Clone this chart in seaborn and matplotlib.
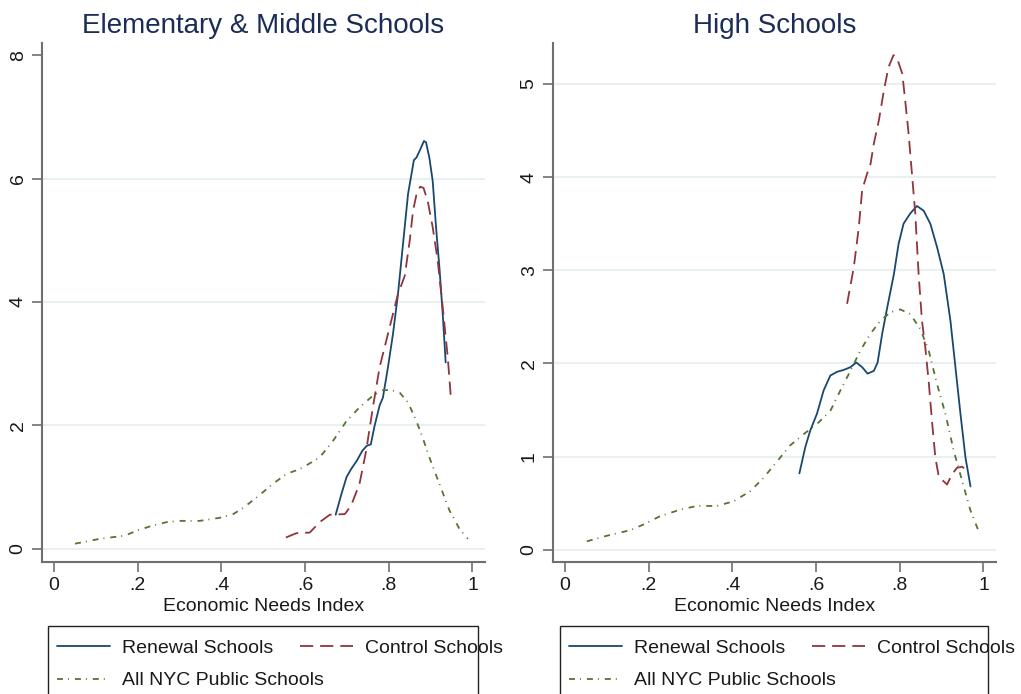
import matplotlib
matplotlib.use("Agg")
import matplotlib.pyplot as plt
from matplotlib.lines import Line2D
from matplotlib.patches import Rectangle
import pandas as pd
import seaborn as sns

sns.set_style("white")
plt.rcParams["font.family"] = ["Liberation Sans", "DejaVu Sans"]
plt.rcParams["lines.scale_dashes"] = False

# ---- Kernel density estimates of the Economic Needs Index ----
# Elementary & Middle Schools
em_renewal_x = [0.673, 0.687, 0.699, 0.710, 0.724, 0.737, 0.748, 0.757, 0.766, 0.778, 0.786, 0.798, 0.810, 0.822,
                0.834, 0.846, 0.860, 0.866, 0.877, 0.884, 0.889, 0.897, 0.905, 0.913, 0.921, 0.929, 0.936]
em_renewal_y = [0.55, 0.89, 1.16, 1.29, 1.43, 1.59, 1.67, 1.69, 1.99, 2.32, 2.45, 2.94, 3.48, 4.13,
                4.94, 5.75, 6.30, 6.34, 6.50, 6.61, 6.59, 6.34, 5.96, 5.21, 4.56, 3.80, 3.02]

em_control_x = [0.554, 0.579, 0.611, 0.635, 0.659, 0.695, 0.710, 0.730, 0.746, 0.762, 0.778, 0.802, 0.822,
                0.838, 0.850, 0.858, 0.867, 0.875, 0.883, 0.893, 0.905, 0.917, 0.929, 0.941, 0.949]
em_control_y = [0.18, 0.25, 0.26, 0.43, 0.55, 0.56, 0.70, 1.05, 1.59, 2.29, 2.94, 3.59, 4.13,
                4.42, 4.99, 5.48, 5.77, 5.87, 5.85, 5.64, 5.21, 4.67, 3.91, 3.10, 2.40]

em_all_x = [0.050, 0.110, 0.169, 0.197, 0.229, 0.269, 0.301, 0.348, 0.396, 0.428, 0.452, 0.484, 0.523, 0.555,
            0.587, 0.603, 0.635, 0.667, 0.699, 0.730, 0.762, 0.786, 0.806, 0.826, 0.846, 0.866, 0.881, 0.897,
            0.921, 0.945, 0.969, 0.989]
em_all_y = [0.08, 0.16, 0.21, 0.29, 0.36, 0.43, 0.45, 0.45, 0.50, 0.56, 0.66, 0.83, 1.05, 1.21,
            1.29, 1.35, 1.48, 1.75, 2.07, 2.29, 2.48, 2.57, 2.57, 2.53, 2.37, 2.07, 1.80, 1.48,
            1.05, 0.62, 0.32, 0.16]

# High Schools
hs_renewal_x = [0.560, 0.574, 0.586, 0.602, 0.618, 0.634, 0.650, 0.666, 0.682, 0.696, 0.710, 0.723, 0.738, 0.747,
                0.758, 0.770, 0.786, 0.797, 0.809, 0.825, 0.841, 0.857, 0.873, 0.889, 0.905, 0.921, 0.933, 0.945,
                0.957, 0.969]
hs_renewal_y = [0.82, 1.10, 1.28, 1.46, 1.71, 1.87, 1.91, 1.93, 1.96, 2.01, 1.96, 1.89, 1.92, 2.01,
                2.32, 2.60, 2.96, 3.28, 3.50, 3.61, 3.69, 3.64, 3.50, 3.25, 2.96, 2.46, 1.96, 1.46,
                0.99, 0.68]

hs_control_x = [0.674, 0.690, 0.702, 0.710, 0.722, 0.730, 0.738, 0.750, 0.762, 0.773, 0.785, 0.794, 0.806, 0.813,
                0.821, 0.829, 0.837, 0.845, 0.853, 0.861, 0.869, 0.877, 0.885, 0.893, 0.901, 0.913, 0.925, 0.937,
                0.949, 0.961]
hs_control_y = [2.64, 3.03, 3.46, 3.86, 4.04, 4.14, 4.36, 4.61, 4.93, 5.18, 5.31, 5.27, 5.11, 4.82,
                4.47, 4.04, 3.61, 2.96, 2.46, 2.17, 1.81, 1.38, 0.99, 0.79, 0.75, 0.70, 0.81, 0.88,
                0.89, 0.85]

hs_all_x = [0.052, 0.100, 0.156, 0.187, 0.227, 0.275, 0.315, 0.363, 0.403, 0.443, 0.474, 0.507, 0.538, 0.570,
            0.602, 0.634, 0.658, 0.682, 0.706, 0.730, 0.754, 0.778, 0.801, 0.825, 0.849, 0.869, 0.889, 0.909,
            0.929, 0.949, 0.969, 0.991]
hs_all_y = [0.09, 0.15, 0.21, 0.27, 0.36, 0.43, 0.47, 0.47, 0.52, 0.63, 0.77, 0.95, 1.12, 1.24,
            1.35, 1.49, 1.71, 1.92, 2.14, 2.32, 2.46, 2.55, 2.58, 2.53, 2.37, 2.14, 1.78, 1.46,
            1.06, 0.74, 0.42, 0.17]

groups = ["Renewal Schools", "Control Schools", "All NYC Public Schools"]
panel_titles = ["Elementary & Middle Schools", "High Schools"]
x_ticks = [0, 0.2, 0.4, 0.6, 0.8, 1.0]
x_tick_labels = ["0", ".2", ".4", ".6", ".8", "1"]
em_y_ticks = [0, 2, 4, 6, 8]
hs_y_ticks = [0, 1, 2, 3, 4, 5]

palette = {"Renewal Schools": "#1a476f",
           "Control Schools": "#90353b",
           "All NYC Public Schools": "#55752f"}
dash_map = {"Renewal Schools": "",
            "Control Schools": (9.5, 5.0),
            "All NYC Public Schools": (4.3, 3.6, 0.7, 4.3)}

TITLE_COLOR = "#1c2d55"
AXIS_COLOR = "#6f6f6f"
GRID_COLOR = "#e8f0f1"
TEXT_COLOR = "#1a1a1a"


def long_frame(series):
    parts = []
    for name, (xs, ys) in zip(groups, series):
        parts.append(pd.DataFrame({"eni": xs, "density": ys, "group": name}))
    return pd.concat(parts, ignore_index=True)


panels = [
    (long_frame([(em_renewal_x, em_renewal_y), (em_control_x, em_control_y), (em_all_x, em_all_y)]),
     em_y_ticks, (-0.217, 8.20), [0, 2, 4, 6]),
    (long_frame([(hs_renewal_x, hs_renewal_y), (hs_control_x, hs_control_y), (hs_all_x, hs_all_y)]),
     hs_y_ticks, (-0.132, 5.44), [0, 1, 2, 3, 4, 5]),
]

W, H = 1021, 694
fig = plt.figure(figsize=(W / 100, H / 100), dpi=100)

axes_px = [(42, 43, 485, 562), (553, 43, 996, 562)]
legend_px = [(48, 626, 478), (560, 626, 988)]

legend_kw = dict(loc="upper left", frameon=False, fontsize=14, handlelength=2.73,
                 handletextpad=0.62, labelspacing=0.78, borderpad=0, borderaxespad=0,
                 labelcolor=TEXT_COLOR)

for i, ((df, yticks, ylim, gridvals), (l, t, r, b)) in enumerate(zip(panels, axes_px)):
    ax = fig.add_axes([l / W, 1 - b / H, (r - l) / W, (b - t) / H])
    for gv in gridvals:
        ax.axhline(gv, color=GRID_COLOR, lw=1.5, zorder=0)
    sns.lineplot(data=df, x="eni", y="density", hue="group", style="group",
                 hue_order=groups, style_order=groups, palette=palette, dashes=dash_map,
                 estimator=None, sort=False, legend=False, linewidth=1.3, ax=ax)
    ax.set_xlim(-0.029, 1.03)
    ax.set_ylim(*ylim)
    ax.set_xticks(x_ticks)
    ax.set_xticklabels(x_tick_labels)
    ax.set_yticks(yticks)
    ax.set_yticklabels([str(v) for v in yticks], rotation=90, va="center")
    ax.tick_params(axis="both", direction="out", length=7, width=1.2, color=AXIS_COLOR,
                   labelsize=14, labelcolor=TEXT_COLOR, left=True, bottom=True)
    ax.tick_params(axis="x", pad=4)
    ax.tick_params(axis="y", pad=4)
    for side in ("top", "right"):
        ax.spines[side].set_visible(False)
    for side in ("left", "bottom"):
        ax.spines[side].set_color(AXIS_COLOR)
        ax.spines[side].set_linewidth(1.5)
    ax.set_xlabel("Economic Needs Index", fontsize=14, color=TEXT_COLOR, labelpad=3)
    ax.set_ylabel("")
    ax.set_title(panel_titles[i], fontsize=20, color=TITLE_COLOR, pad=7)

    # legend box beneath each panel
    lx0, ly0, lx1 = legend_px[i]
    fig.patches.append(Rectangle((lx0 / W, 1 - 740 / H), (lx1 - lx0) / W, (740 - ly0) / H,
                                 transform=fig.transFigure, fill=False, edgecolor="#222222",
                                 linewidth=1.0, clip_on=False))
    handles = {g: Line2D([], [], color=palette[g], linewidth=1.3,
                         dashes=dash_map[g] if dash_map[g] else (None, None)) for g in groups}
    left_col = ["Renewal Schools", "All NYC Public Schools"]
    right_col = ["Control Schools"]
    fig.legend([handles[g] for g in left_col], left_col,
               bbox_to_anchor=((lx0 + 9) / W, 1 - 639 / H), **legend_kw)
    fig.legend([handles[g] for g in right_col], right_col,
               bbox_to_anchor=((lx0 + 252) / W, 1 - 639 / H), **legend_kw)

fig.savefig("out.png", dpi=100, facecolor="white")
